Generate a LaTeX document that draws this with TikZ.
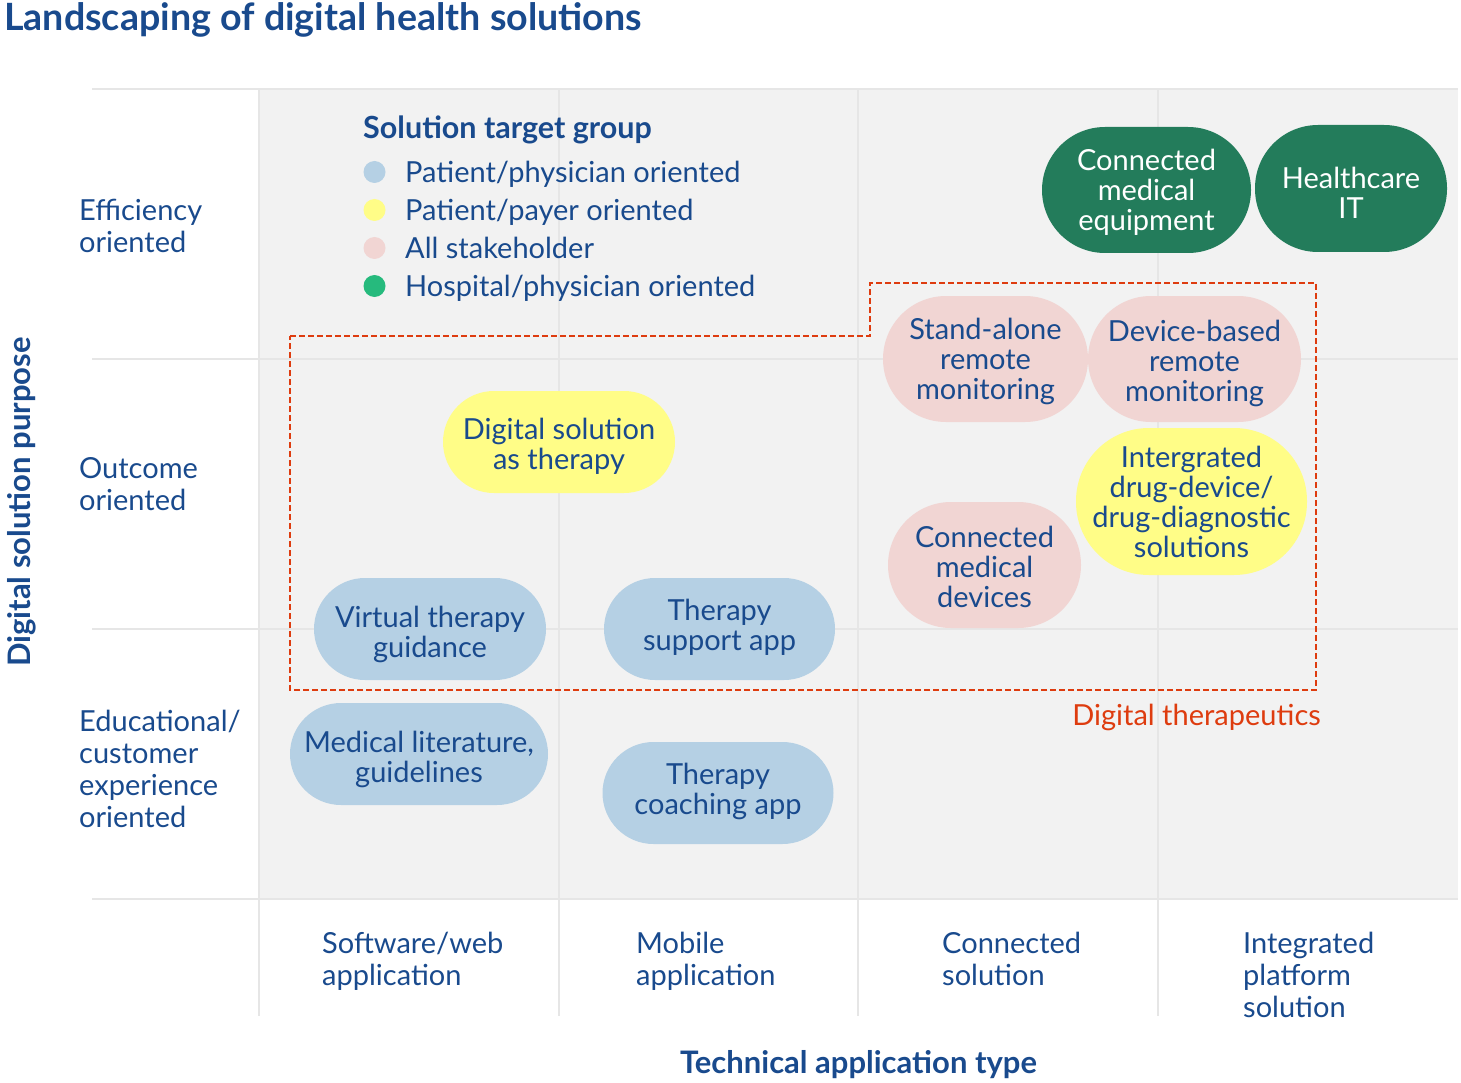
\documentclass[tikz,border=0pt]{standalone}
\usepackage{fontspec}
\setmainfont{Lato}
\definecolor{txtblue}{RGB}{25,74,141}
\definecolor{dkgreen}{RGB}{35,124,91}
\definecolor{ltgreen}{RGB}{38,186,125}
\definecolor{pillblue}{RGB}{181,208,228}
\definecolor{pillyellow}{RGB}{255,253,135}
\definecolor{pillpink}{RGB}{241,213,211}
\definecolor{dtred}{RGB}{222,60,15}
\definecolor{bggray}{RGB}{242,242,242}
\definecolor{gridgray}{RGB}{230,230,230}
\lineskiplimit=-100pt
\newcommand\fstrut{\rule{0pt}{27pt}}
\begin{document}
\begin{tikzpicture}[x=1pt,y=-1pt,
  every node/.style={text=txtblue, inner sep=0pt},
  pill/.style={rectangle, rounded corners=#1},
  pillB/.style={pill=#1, fill=pillblue},
  pillY/.style={pill=#1, fill=pillyellow},
  pillP/.style={pill=#1, fill=pillpink},
  pillG/.style={pill=#1, fill=dkgreen},
  ptext/.style={anchor=north, align=center, font=\fontsize{29}{30}\selectfont},
  wtext/.style={ptext, text=white},
  rowlab/.style={anchor=north west, align=left, font=\fontsize{29}{32}\selectfont},
  legtxt/.style={anchor=base west, font=\fontsize{29}{30}\selectfont},
  legdot/.style={circle, minimum size=22pt},
  gridline/.style={draw=gridgray, line width=1.5pt},
  axislab/.style={anchor=base, font=\fontsize{31}{34}\selectfont\bfseries},
  dtline/.style={draw=dtred, line width=2pt, dash pattern=on 6pt off 3pt}
]
\useasboundingbox (0,0) rectangle (1461,1083);
% background grid
\fill[bggray] (259,89) rectangle (1458,899);
\foreach \yy in {89,359,629,899} \draw[gridline] (92,\yy) -- (1458,\yy);
\foreach \xx in {259,559,858,1158} \draw[gridline] (\xx,89) -- (\xx,1016);

% title
\node[anchor=base west, font=\fontsize{37.6}{40}\selectfont\bfseries] (title) at (4,31) {Landscaping of digital health solutions};

% axis labels
\node[axislab, rotate=90] (ylab) at (30,502) {Digital solution purpose};
\node[axislab] (xlab) at (858.5,1073.7) {Technical application type};

% row labels
\node[rowlab] (r1) at (79,193.3) {\fstrut Efficiency\\oriented};
\node[rowlab] (r2) at (79,451) {\fstrut Outcome\\oriented};
\node[rowlab] (r3) at (79,704.5) {\fstrut Educational/\\customer\\experience\\oriented};

% column labels
\node[rowlab] (c1) at (322,926.7) {\fstrut Software/web\\application};
\node[rowlab] (c2) at (636,926.7) {\fstrut Mobile\\application};
\node[rowlab] (c3) at (942,926.7) {\fstrut Connected\\solution};
\node[rowlab] (c4) at (1243,926.7) {\fstrut Integrated\\platform\\solution};

% legend
\node[anchor=base west, font=\fontsize{30.5}{34}\selectfont\bfseries] (leghead) at (363,139) {Solution target group};
\node[legdot, fill=pillblue] (d1) at (374.5,172) {};
\node[legdot, fill=pillyellow] (d2) at (374.5,210) {};
\node[legdot, fill=pillpink] (d3) at (374.5,248) {};
\node[legdot, fill=ltgreen] (d4) at (374.5,286) {};
\node[legtxt] (l1) at (405,183) {Patient/physician oriented};
\node[legtxt] (l2) at (405,221) {Patient/payer oriented};
\node[legtxt] (l3) at (405,259) {All stakeholder};
\node[legtxt] (l4) at (405,297) {Hospital/physician oriented};

% digital therapeutics dashed region
\coordinate (dt1) at (290,336);
\coordinate (dt2) at (870,336);
\coordinate (dt3) at (870,283);
\coordinate (dt4) at (1316,283);
\coordinate (dt5) at (1316,690);
\coordinate (dt6) at (290,690);
\draw[dtline] (dt1) -- (dt2) -- (dt3) -- (dt4) -- (dt5) -- (dt6) -- cycle;
\node[anchor=base east, text=dtred, font=\fontsize{29}{30}\selectfont] (dtlab) at (1321,725.3) {Digital therapeutics};

% pills (shapes)
\node[pillG=63, minimum width=209pt, minimum height=126pt] (cme) at (1146.5,190) {};
\node[pillG=63, minimum width=192pt, minimum height=127pt] (hit) at (1351,188.5) {};
\node[pillP=63, minimum width=205pt, minimum height=126pt] (sarm) at (985.5,359) {};
\node[pillP=63, minimum width=213pt, minimum height=126pt] (dbrm) at (1194.5,359) {};
\node[pillY=51, minimum width=232pt, minimum height=102pt] (dsat) at (559,442) {};
\node[pillY=73, minimum width=231pt, minimum height=147pt] (iddd) at (1191.5,501.5) {};
\node[pillP=63, minimum width=193pt, minimum height=126pt] (cmd) at (984.5,565) {};
\node[pillB=51, minimum width=232pt, minimum height=102pt] (vtg) at (430,629) {};
\node[pillB=51, minimum width=231pt, minimum height=102pt] (tsa) at (719.5,629) {};
\node[pillB=51, minimum width=258pt, minimum height=102pt] (mlg) at (419,754) {};
\node[pillB=51, minimum width=231pt, minimum height=102pt] (tca) at (718,793) {};

% pill texts
\node[wtext] (cmeT) at ([yshift=46.7pt]cme.center) {\fstrut Connected\\medical\\equipment};
\node[wtext] (hitT) at ([yshift=27.5pt]hit.center) {\fstrut Healthcare\\IT};
\node[ptext] (sarmT) at ([yshift=46.3pt]sarm.center) {\fstrut Stand-alone\\remote\\monitoring};
\node[ptext] (dbrmT) at ([yshift=44.7pt]dbrm.center) {\fstrut Device-based\\remote\\monitoring};
\node[ptext] (dsatT) at ([yshift=29.3pt]dsat.center) {\fstrut Digital solution\\as therapy};
\node[ptext] (idddT) at ([yshift=61.5pt]iddd.center) {\fstrut Intergrated\\drug-device/\\drug-diagnostic\\solutions};
\node[ptext] (cmdT) at ([yshift=45pt]cmd.center) {\fstrut Connected\\medical\\devices};
\node[ptext] (vtgT) at ([yshift=29pt]vtg.center) {\fstrut Virtual therapy\\guidance};
\node[ptext] (tsaT) at ([yshift=35.7pt]tsa.center) {\fstrut Therapy\\support app};
\node[ptext] (mlgT) at ([yshift=29pt]mlg.center) {\fstrut Medical literature,\\guidelines};
\node[ptext] (tcaT) at ([yshift=35.3pt]tca.center) {\fstrut Therapy\\coaching app};
\end{tikzpicture}
\end{document}
